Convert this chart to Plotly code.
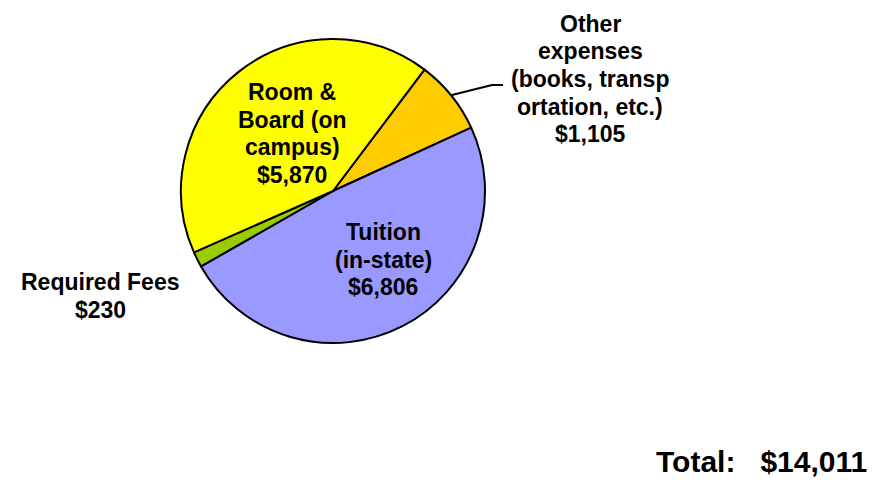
import plotly.graph_objects as go

categories = ["Other expenses (books, transportation, etc.)", "Tuition (in-state)",
              "Required Fees", "Room & Board (on campus)"]
costs = [1105, 6806, 230, 5870]
colors = ["#FFCC00", "#9999FF", "#99CC00", "#FFFF00"]
label_lines = [["Other", "expenses", "(books, transp", "ortation, etc.)", "$1,105"],
               ["Tuition", "(in-state)", "$6,806"],
               ["Required Fees", "$230"],
               ["Room &", "Board (on", "campus)", "$5,870"]]
total_text = "Total:   $14,011"

# the page puts the plot 8px in from the top-left corner
OFF = 8
W, H = 879 - 2 * OFF, 487 - 2 * OFF
font = "Liberation Sans, Arial, sans-serif"


def px(x):
    return (x - OFF) / W


def py(y):
    return 1 - (y - OFF) / H


fig = go.Figure()
fig.add_trace(go.Pie(
    labels=categories, values=costs, sort=False, direction="clockwise",
    rotation=37, textinfo="none", hoverinfo="label+value",
    marker=dict(colors=colors, line=dict(color="black", width=2)),
    domain=dict(x=[px(181), px(485)], y=[py(343), py(39)]),
    showlegend=False,
))

# label centre x and first line centre y, in pixels
label_pos = [(590, 24), (383, 232), (100, 282), (292, 92)]
spacing = 27.5
for lines, (lx, ly) in zip(label_lines, label_pos):
    for i, line in enumerate(lines):
        fig.add_annotation(text="<b>" + line + "</b>", x=px(lx), y=py(ly + i * spacing),
                           xref="paper", yref="paper", showarrow=False,
                           xanchor="center", yanchor="middle",
                           font=dict(family=font, size=23, color="black"))

fig.add_annotation(text="<b>" + total_text + "</b>", x=px(868), y=py(461),
                   xref="paper", yref="paper", showarrow=False, borderpad=0,
                   xanchor="right", yanchor="middle",
                   font=dict(family=font, size=30, color="black"))

# leader line for the "Other" slice
fig.add_shape(type="path", xref="paper", yref="paper",
              path="M %f,%f L %f,%f L %f,%f" % (px(452), py(95), px(492), py(85),
                                                 px(503), py(85)),
              line=dict(color="black", width=2))

fig.update_layout(
    width=W, height=H,
    margin=dict(l=0, r=0, t=0, b=0),
    paper_bgcolor="white", plot_bgcolor="white",
)

fig.write_html("out.html")
